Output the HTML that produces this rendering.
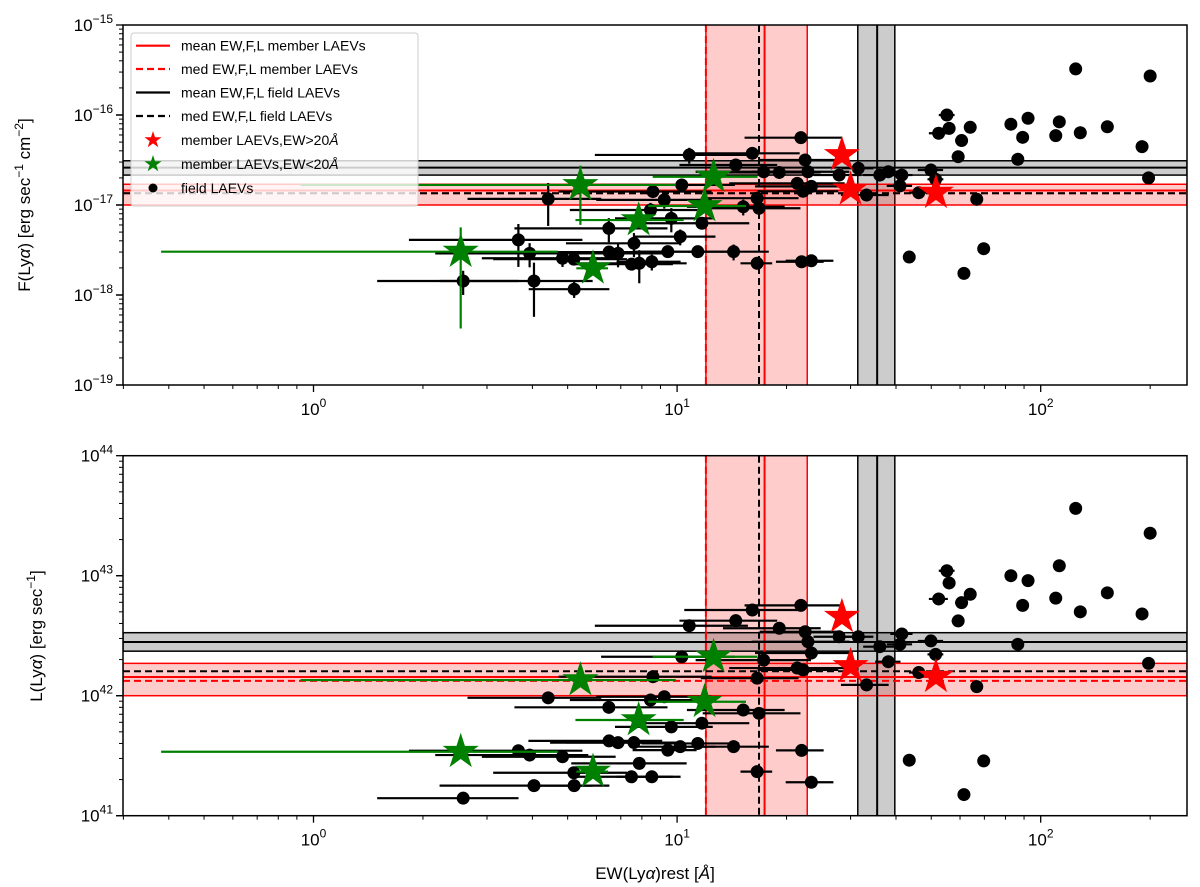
<!DOCTYPE html>
<html><head><meta charset="utf-8">
<style>
html,body{margin:0;padding:0;background:#fff;}
svg{display:block;font-family:"Liberation Sans","DejaVu Sans",sans-serif;}
</style></head>
<body>
<svg id="chart" width="1200" height="887" viewBox="0 0 1200 887" xmlns="http://www.w3.org/2000/svg">
<defs>
<clipPath id="clipTop"><rect x="123" y="25" width="1064" height="360"/></clipPath>
<clipPath id="clipBot"><rect x="123" y="455.7" width="1064" height="360"/></clipPath>
</defs>
<rect width="1200" height="887" fill="#fff"/>
<g id="topData" clip-path="url(#clipTop)"></g>
<g id="botData" clip-path="url(#clipBot)"></g>
<g id="axes"></g>
<text transform="translate(30,205) rotate(-90)" text-anchor="middle" font-size="17">F(Ly<tspan font-style="italic">α</tspan>) [erg sec<tspan dy="-7" font-size="12">−1</tspan><tspan dy="7"> cm</tspan><tspan dy="-7" font-size="12">−2</tspan><tspan dy="7">]</tspan></text>
<text transform="translate(42,636) rotate(-90)" text-anchor="middle" font-size="17">L(Ly<tspan font-style="italic">α</tspan>) [erg sec<tspan dy="-7" font-size="12">−1</tspan><tspan dy="7">]</tspan></text>
<text x="655" y="879" text-anchor="middle" font-size="17">EW(Ly<tspan font-style="italic">α</tspan>)rest [<tspan font-style="italic">Å</tspan>]</text>
<g id="legend"></g>
</svg>
<script>
// ---- data (EW in Å, flux in 1e-17 erg/s/cm2, luminosity in 1e42 erg/s) ----
const fieldEW   = [2.58,3.66,3.93,4.04,4.42,4.84,5.21,5.2,6.49,6.5,6.88,7.61,7.87,7.49,8.52,8.58,8.45,9.22,9.64,10.2,9.43,10.3,10.8,11.4,11.7,14.5,16.1,15.2,14.3,16.8,16.6,16.6,21.9,22.5,22.9,21.4,22.2,23.4,22.0,23.4,19.1,17.3,27.9,31.5,33.2,36.1,38.1,41.5,41,46.2,51.4,49.9,43.5,52.4,55.2,56,59.3,60.6,64,66.7,69.7,61.5,86.5,89.2,82.8,92.3,110,112.5,128.5,124.8,152.5,190,200,198];
const fieldF    = [0.143,0.41,0.29,0.143,1.17,0.256,0.116,0.25,0.55,0.3,0.29,0.375,0.225,0.22,0.234,1.41,0.88,1.14,0.71,0.445,0.303,1.67,3.6,0.303,0.627,2.78,3.75,0.957,0.303,0.92,0.225,1.19,5.6,3.16,2.34,1.74,1.42,1.61,0.234,0.24,2.3,2.34,2.15,2.56,1.29,2.15,2.34,2.15,1.63,1.37,1.93,2.45,0.264,6.27,10,7.1,3.44,5.2,7.3,1.16,0.327,0.174,3.22,5.65,7.9,9.2,5.9,8.4,6.35,32.5,7.4,4.45,27.1,2.0];
const fieldL    = [0.14,0.348,0.32,0.178,0.96,0.31,0.178,0.228,0.80,0.42,0.406,0.407,0.273,0.211,0.211,1.44,0.92,0.98,0.55,0.376,0.352,2.11,3.83,0.40,0.59,4.22,5.18,0.76,0.376,0.713,0.233,1.40,5.66,3.41,2.82,1.70,1.64,2.27,0.35,0.19,3.65,1.98,3.1,3.1,1.23,2.56,1.92,3.27,2.68,1.56,2.21,2.86,0.29,6.4,11,8.7,4.2,5.96,7.0,1.19,0.286,0.15,2.68,5.66,10,9.1,6.5,12.1,5.0,36.4,7.2,4.8,22.6,1.86];
const fieldEWErr= [0.42,0.5,0.45,0.45,0.4,0.4,0.25,0.4,0.45,0.4,0.35,0.35,0.35,0.3,0.2,0.45,0.4,0.35,0.3,0.25,0.2,0.4,0.45,0.3,0.35,0.3,0.35,0.3,0.25,0.3,0.1,0.3,0.3,0.25,0.3,0.35,0.25,0.3,0.15,0.15,0.3,0.35,0.15,0.1,0.15,0.1,0.08,0.07,0.08,0.06,0.05,0.08,0,0.06,0.05,0.04,0.04,0.04,0.03,0,0,0,0.03,0,0,0,0,0,0,0,0,0,0,0];
const fieldFErr = [0.3,0.5,0.3,0.6,0.5,0.2,0.2,0,0.3,0,0.3,0.3,0.4,0,0.2,0,0.2,0.2,0.3,0.2,0,0,0.2,0,0,0,0.1,0.2,0.2,0,0.15,0,0,0,0,0,0,0,0,0,0,0,0,0,0,0,0,0,0,0,0,0,0,0,0.05,0.05,0,0,0,0,0,0,0,0,0,0,0,0,0,0,0,0,0,0];
const greenEW   = [2.54,5.42,5.87,7.84,11.9,12.6];
const greenF    = [0.303,1.67,0.198,0.68,0.975,2.06];
const greenL    = [0.341,1.35,0.233,0.627,0.89,2.11];
const greenEWErr= [0.85,0.83,0.1,0.33,0.3,0.32];
const greenFErr = [0.86,0.64,0.1,0.15,0.1,0.1];
const redEW     = [28.4,30.0,51.5];
const redF      = [3.6,1.49,1.37];
const redL      = [4.55,1.77,1.44];
// reference statistics: [mean, median, band low, band high]
const memberEWStats = [17.4, 12.0, 12.0, 22.8];
const memberFStats  = [1.45, 1.35, 1.0, 1.7];
const memberLStats  = [1.43, 1.33, 1.0, 1.86];
const fieldEWStats  = [35.5, 16.8, 31.4, 39.7];
const fieldFStats   = [2.6, 1.35, 2.15, 3.1];
const fieldLStats   = [2.8, 1.6, 2.35, 3.35];
const xTickExps = [0,1,2];
const fTickExps = [-15,-16,-17,-18,-19];
const lTickExps = [44,43,42,41];

const NS="http://www.w3.org/2000/svg";
const X0=123,X1=1187;
const TOP={y0:25,y1:385},BOT={y0:455.7,y1:815.7};
const xs=e=>313.5+363.6*Math.log10(e);
const yF=f=>25+90*(2-Math.log10(f));
const yL=l=>455.7+120*(2-Math.log10(l));
function mk(tag,attrs,parent){const el=document.createElementNS(NS,tag);for(const k in attrs)el.setAttribute(k,attrs[k]);parent.appendChild(el);return el;}

function drawPanel(g,P,ys,yv,yErrArr,useYErr,memStats,fldStats,grY,rdY,panel){
  let el;
  el=mk('rect',{x:xs(memberEWStats[2]),y:P.y0-5,width:xs(memberEWStats[3])-xs(memberEWStats[2]),height:P.y1-P.y0+10,fill:'rgba(255,0,0,0.2)',stroke:'red','stroke-width':1.5},g);
  
  
  el=mk('rect',{x:xs(fieldEWStats[2]),y:P.y0-5,width:xs(fieldEWStats[3])-xs(fieldEWStats[2]),height:P.y1-P.y0+10,fill:'rgba(0,0,0,0.2)',stroke:'#000','stroke-width':1.5},g);
  
  
  el=mk('rect',{x:X0,y:ys(memStats[3]),width:X1-X0,height:ys(memStats[2])-ys(memStats[3]),fill:'rgba(255,0,0,0.2)',stroke:'red','stroke-width':1.5},g);
  
  
  el=mk('rect',{x:X0,y:ys(fldStats[3]),width:X1-X0,height:ys(fldStats[2])-ys(fldStats[3]),fill:'rgba(0,0,0,0.2)',stroke:'#000','stroke-width':1.5},g);
  
  
  const refs=[[memberEWStats[0],memStats[0],'red',null,'member-mean'],[memberEWStats[1],memStats[1],'red','7,4','member-median'],
              [fieldEWStats[0],fldStats[0],'#000',null,'field-mean'],[fieldEWStats[1],fldStats[1],'#000','7,4','field-median']];
  refs.forEach(r=>{
    const v=mk('line',{x1:xs(r[0]),x2:xs(r[0]),y1:P.y0,y2:P.y1,stroke:r[2],'stroke-width':2},g);
    if(r[3])v.setAttribute('stroke-dasharray',r[3]);
    
    
    const h=mk('line',{x1:X0,x2:X1,y1:ys(r[1]),y2:ys(r[1]),stroke:r[2],'stroke-width':2},g);
    if(r[3])h.setAttribute('stroke-dasharray',r[3]);
    
    
  });
  for(let i=0;i<fieldEW.length;i++){
    const e=fieldEW[i],v=yv[i],cx=xs(e),cy=ys(v),s=fieldEWErr[i];
    if(s>0){const lo=Math.max(e*(1-s),0.2);
      const b=mk('line',{x1:xs(lo),x2:xs(e*(1+s)),y1:cy,y2:cy,stroke:'#000','stroke-width':2.2},g);
      
      }
    if(useYErr&&yErrArr[i]>0){const t=yErrArr[i];
      const b=mk('line',{x1:cx,x2:cx,y1:ys(v*(1+t)),y2:ys(Math.max(v*(1-t),1e-3)),stroke:'#000','stroke-width':2.2},g);
      
      }
    const c=mk('circle',{cx:cx,cy:cy,r:6.5,fill:'#000'},g);
    
    
  }
  for(let i=0;i<greenEW.length;i++){
    const e=greenEW[i],v=grY[i],cx=xs(e),cy=ys(v),s=greenEWErr[i];
    const b=mk('line',{x1:xs(Math.max(e*(1-s),0.2)),x2:xs(e*(1+s)),y1:cy,y2:cy,stroke:'green','stroke-width':2.2},g);
    
    
    if(useYErr){const t=greenFErr[i];
      const b2=mk('line',{x1:cx,x2:cx,y1:ys(v*(1+t)),y2:ys(Math.max(v*(1-t),1e-3)),stroke:'green','stroke-width':2.2},g);
      
      }
    const st=star(cx,cy,19,'green',g);
    
    
  }
  for(let i=0;i<redEW.length;i++){
    const st=star(xs(redEW[i]),ys(rdY[i]),19,'red',g);
    
    
  }
}
function star(cx,cy,R,col,parent){
  const pts=[];for(let k=0;k<10;k++){const r=k%2?R*0.38:R;const a=-Math.PI/2+k*Math.PI/5;pts.push((cx+r*Math.cos(a)).toFixed(1)+','+(cy+r*Math.sin(a)).toFixed(1));}
  return mk('polygon',{points:pts.join(' '),fill:col},parent);
}
const gT=document.getElementById('topData'),gB=document.getElementById('botData');
drawPanel(gT,TOP,yF,fieldF,fieldFErr,true,memberFStats,fieldFStats,greenF,redF,'flux');
drawPanel(gB,BOT,yL,fieldL,null,false,memberLStats,fieldLStats,greenL,redL,'lum');

const ax=document.getElementById('axes');
function axisFrame(P,name,yExps,ymap,labelFn){
  const fr=mk('rect',{x:X0,y:P.y0,width:X1-X0,height:P.y1-P.y0,fill:'none',stroke:'#000','stroke-width':1.5},ax);
  
  
  for(let d=-1;d<=2;d++)for(let m=1;m<=9;m++){const v=m*Math.pow(10,d);const x=xs(v);if(x<X0-0.5||x>X1+0.5)continue;
    mk('line',{x1:x,x2:x,y1:P.y1,y2:P.y1+(m===1?7:4),stroke:'#000','stroke-width':m===1?1.3:1},ax);}
  xTickExps.forEach(p=>{const t=mk('text',{x:xs(Math.pow(10,p)),y:P.y1+30,'text-anchor':'middle','font-size':17},ax);
    
    
    t.innerHTML='10<tspan dy="-8" font-size="12">'+p+'</tspan>';});
  const ye=yExps.slice().sort((a,b)=>a-b);
  for(let d=ye[0];d<ye[ye.length-1];d++)for(let m=1;m<=9;m++){const y=ymap(d,m);
    mk('line',{x1:X0,x2:X0-(m===1?7:4),y1:y,y2:y,stroke:'#000','stroke-width':m===1?1.3:1},ax);}
  yExps.forEach(p=>{const y=ymap(p,1);
    mk('line',{x1:X0,x2:X0-7,y1:y,y2:y,stroke:'#000','stroke-width':1.3},ax);
    const t=mk('text',{x:X0-10,y:y+6,'text-anchor':'end','font-size':17},ax);
    
    
    t.innerHTML='10<tspan dy="-8" font-size="12">'+labelFn(p)+'</tspan>';});
}
axisFrame(TOP,'flux-axis',fTickExps,(d,m)=>yF(m*Math.pow(10,d+17)),p=>String(p).replace('-','−'));
axisFrame(BOT,'lum-axis',lTickExps,(d,m)=>yL(m*Math.pow(10,d-42)),p=>String(p));

const lg=document.getElementById('legend');
mk('rect',{x:131,y:33,width:287,height:173,rx:3,fill:'rgba(255,255,255,0.8)',stroke:'#ccc','stroke-width':1},lg);
const legLabels=['mean EW,F,L member LAEVs','med EW,F,L member LAEVs','mean EW,F,L field LAEVs','med EW,F,L field LAEVs','member LAEVs,EW>20Å','member LAEVs,EW<20Å','field LAEVs'];
const legY=[45.7,69,92.5,116,140,164,188];
legLabels.forEach((lab,i)=>{
  const y=legY[i];
  if(i<4){const l=mk('line',{x1:136,x2:170,y1:y,y2:y,stroke:i<2?'red':'#000','stroke-width':2.2},lg);if(i%2)l.setAttribute('stroke-dasharray','7,4');}
  else if(i<6){star(153,y,9,i===4?'red':'green',lg);}
  else{mk('circle',{cx:153,cy:y,r:4.5,fill:'#000'},lg);}
  const t=mk('text',{x:181,y:y+5,'font-size':14},lg);
  
  
  if(i===4||i===5){t.innerHTML=lab.replace('Å','<tspan font-style="italic">Å</tspan>');}else t.textContent=lab;
});
</script>
</body></html>
